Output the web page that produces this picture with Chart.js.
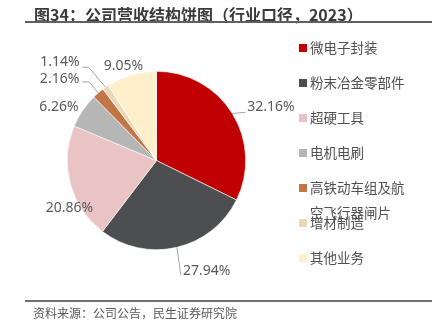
<!DOCTYPE html>
<html>
<head>
<meta charset="utf-8">
<script src="https://cdn.jsdelivr.net/npm/chart.js@4.4.1/dist/chart.umd.min.js"></script>
<style>
    body { margin: 0; background: #fff; font-family: "Noto Sans", "Noto Sans CJK SC", sans-serif; }
    #wrap { position: relative; width: 440px; height: 332px; overflow: hidden; }
    #title { position: absolute; left: 34px; top: 2px; font-size: 16px; font-weight: 700; color: #3a3a3a; white-space: nowrap; font-family: "Noto Sans CJK SC", sans-serif; }
    #line1 { position: absolute; left: 25px; width: 407px; top: 21px; height: 2px; background: #606060; }
    #line2 { position: absolute; left: 25px; width: 407px; top: 300px; height: 2px; background: #707070; }
    #source { position: absolute; left: 33px; top: 304px; font-size: 12px; color: #595959; white-space: nowrap; font-family: "Noto Sans CJK SC", sans-serif; }
    canvas { position: absolute; left: 0; top: 0; }
</style>
</head>
<body>
<div id="wrap">
    <canvas id="pieChart" width="440" height="332"></canvas>
    <div id="title">图34：公司营收结构饼图（行业口径，2023）</div>
    <div id="line1"></div>
    <div id="line2"></div>
    <div id="source">资料来源：公司公告，民生证券研究院</div>
</div>
<script>
// revenue mix by segment, %
const segments = ['微电子封装', '粉末冶金零部件', '超硬工具', '电机电刷', '高铁动车组及航空飞行器闸片', '增材制造', '其他业务'];
const shares = [32.16, 27.94, 20.86, 6.26, 2.16, 1.14, 9.05];
const colors = ['#c00000', '#4d4e50', '#eac4c4', '#b6b6b6', '#c07646', '#e9d8ba', '#fff0cb'];

// label placement, offsets from the slice's outer mid point
const labelLayout = [
    { dx: 15, dy: -6, align: 'left', leader: [[13, -1]] },
    { dx: 6, dy: 24, align: 'left', leader: [[4, 28]] },
    { dx: -1, dy: 24, align: 'center', leader: null },
    { dx: -4, dy: -4, align: 'right', leader: null },
    { dx: -19, dy: -14, align: 'right', leader: [[-9, -11], [-16, -11]] },
    { dx: -26, dy: -25, align: 'right', leader: [[-17, -20], [-23, -20]] },
    { dx: -8, dy: -9, align: 'center', leader: null }
];

const labelPlugin = {
    id: 'pieLabels',
    afterDraw(chart) {
        const ctx = chart.ctx;
        const arcs = chart.getDatasetMeta(0).data;
        ctx.save();
        ctx.font = '14px "Noto Sans", sans-serif';
        ctx.textBaseline = 'middle';
        arcs.forEach((arc, i) => {
            const p = arc.getProps(['x', 'y', 'startAngle', 'endAngle', 'outerRadius'], true);
            const mid = (p.startAngle + p.endAngle) / 2;
            const ex = p.x + Math.cos(mid) * p.outerRadius;
            const ey = p.y + Math.sin(mid) * p.outerRadius;
            const lay = labelLayout[i];
            if (lay.leader) {
                ctx.strokeStyle = '#a6a6a6';
                ctx.lineWidth = 1;
                ctx.beginPath();
                ctx.moveTo(ex, ey);
                lay.leader.forEach(pt => ctx.lineTo(ex + pt[0], ey + pt[1]));
                ctx.stroke();
            }
            ctx.fillStyle = '#595959';
            ctx.textAlign = lay.align;
            ctx.fillText(shares[i].toFixed(2) + '%', ex + lay.dx, ey + lay.dy);
        });

        // legend
        ctx.font = '13.5px "Noto Sans CJK SC", sans-serif';
        ctx.textAlign = 'left';
        const maxW = 100;
        segments.forEach((name, i) => {
            const y = 48 + i * 35;
            ctx.fillStyle = colors[i];
            ctx.fillRect(299, y - 4, 8, 8);
            ctx.fillStyle = '#505050';
            let lines = [];
            let cur = '';
            for (const ch of name) {
                if (ctx.measureText(cur + ch).width > maxW) {
                    lines.push(cur);
                    cur = ch;
                } else {
                    cur += ch;
                }
            }
            lines.push(cur);
            lines.forEach((ln, k) => ctx.fillText(ln, 310, y + k * 25));
        });
        ctx.restore();
    }
};

new Chart(document.getElementById('pieChart'), {
    type: 'pie',
    data: {
        labels: segments,
        datasets: [{
            data: shares,
            backgroundColor: colors,
            borderColor: '#ffffff',
            borderWidth: 0.6
        }]
    },
    options: {
        responsive: false,
        animation: false,
        events: [],
        layout: { padding: { top: 71, bottom: 82, left: 67, right: 194 } },
        plugins: {
            legend: { display: false },
            tooltip: { enabled: false }
        }
    },
    plugins: [labelPlugin]
});
</script>
</body>
</html>
